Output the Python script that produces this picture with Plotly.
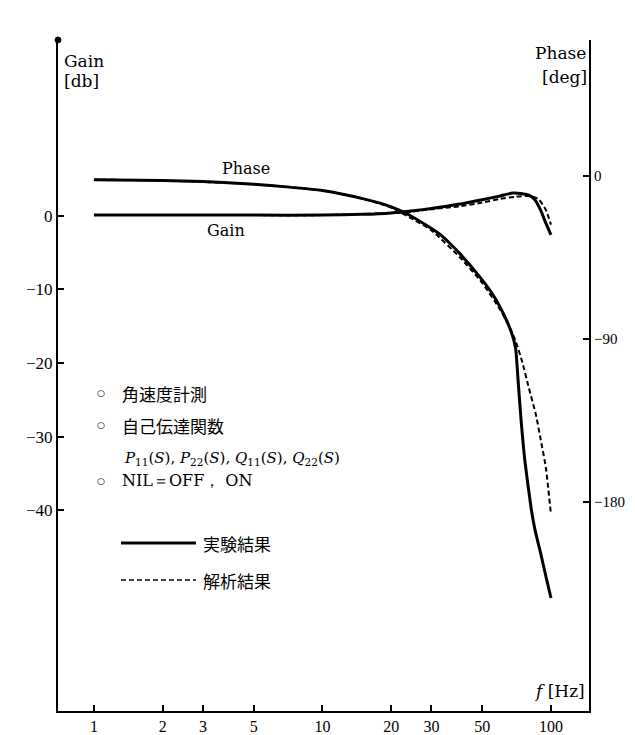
import plotly.graph_objects as go
import math

# ---------------- data ----------------
freq_gain_exp = [1, 2, 3, 5, 10, 15, 20, 25, 30, 40, 50, 60, 68, 75, 80, 85, 90, 95, 100]
gain_exp = [0.1, 0.1, 0.1, 0.1, 0.1, 0.2, 0.4, 0.7, 1.0, 1.6, 2.2, 2.7, 3.1, 3.0, 2.8, 2.2, 0.8, -1.0, -2.6]

freq_gain_ana = [1, 5, 10, 20, 25, 30, 40, 50, 60, 70, 80, 88, 95, 100]
gain_ana = [0.1, 0.1, 0.1, 0.4, 0.6, 0.9, 1.3, 1.8, 2.3, 2.6, 2.7, 2.3, 0.8, -1.2]

freq_phase_exp = [1, 2, 3, 5, 7, 10, 15, 20, 24, 33, 40, 49, 56, 63, 67, 70, 72, 74, 77, 82, 85,
                  90, 95, 100]
phase_exp = [-2, -2.5, -3, -4.5, -6, -8, -12.5, -17, -21.5, -32.6, -43, -56, -66, -78, -86, -95,
             -115, -135, -158, -184, -195, -208, -221, -233]

freq_phase_ana = [1, 2, 5, 10, 15, 20, 25, 30, 40, 50, 60, 65, 70, 75, 80, 86, 90, 95, 100]
phase_ana = [-2, -2.5, -4.5, -8, -12.5, -17.5, -24, -30, -45, -59, -74, -82, -91, -103, -117,
             -132, -145, -161, -187]

x_tickvals = [1, 2, 3, 5, 10, 20, 30, 50, 100]
x_ticktext = ["1", "2", "3", "5", "10", "20", "30", "50", "100"]
gain_tickvals = [0, -10, -20, -30, -40]
gain_ticktext = ["0", "\u221210", "\u221220", "\u221230", "\u221240"]
phase_tickvals = [0, -90, -180]
phase_ticktext = ["0", "\u221290", "\u2212180"]

notes = ["角速度計測", "自己伝達関数"]
formula = ("<i>P</i><sub>11</sub>(<i>S</i>), <i>P</i><sub>22</sub>(<i>S</i>), "
           "<i>Q</i><sub>11</sub>(<i>S</i>), <i>Q</i><sub>22</sub>(<i>S</i>)")
nil_note = "NIL\uff1dOFF\uff0c ON"
legend_labels = ["実験結果", "解析結果"]

# ---------------- layout geometry ----------------
W, H = 635, 735
L, R, T, B = 50, 54, 32, 32
PW, PH = W - L - R, H - T - B

def px(x):
    return (x - L) / PW

def py(y):
    return (H - B - y) / PH

SERIF = "DejaVu Serif"
TICKF = "Liberation Serif"
CJK = "Noto Sans CJK JP"

fig = go.Figure()

fig.add_trace(go.Scatter(x=freq_gain_exp, y=gain_exp, mode="lines",
                         line=dict(color="black", width=3, shape="spline", smoothing=0.5),
                         showlegend=False))
fig.add_trace(go.Scatter(x=freq_gain_ana, y=gain_ana, mode="lines",
                         line=dict(color="black", width=2, dash="5px,3px", shape="spline", smoothing=0.5),
                         showlegend=False))
fig.add_trace(go.Scatter(x=freq_phase_exp, y=phase_exp, mode="lines", yaxis="y2",
                         line=dict(color="black", width=3, shape="spline", smoothing=0.5),
                         showlegend=False))
fig.add_trace(go.Scatter(x=freq_phase_ana, y=phase_ana, mode="lines", yaxis="y2",
                         line=dict(color="black", width=2, dash="5px,3px", shape="spline", smoothing=0.5),
                         showlegend=False))

fig.update_layout(
    width=W, height=H,
    margin=dict(l=L, r=R, t=T, b=B, autoexpand=False),
    paper_bgcolor="white", plot_bgcolor="white",
    font=dict(family=SERIF, color="black", size=16),
    xaxis=dict(type="log", range=[math.log10(0.696), math.log10(146.7)],
               tickvals=x_tickvals, ticktext=x_ticktext, automargin=False,
               ticks="inside", ticklen=6, tickwidth=1.5, tickcolor="black",
               showline=True, linecolor="black", linewidth=2,
               showgrid=False, zeroline=False,
               tickfont=dict(family=TICKF, size=16)),
    yaxis=dict(range=[-67.3, 23.9], automargin=False,
               tickvals=gain_tickvals, ticktext=gain_ticktext,
               ticks="inside", ticklen=6, tickwidth=1.5, tickcolor="black",
               showline=True, linecolor="black", linewidth=2,
               showgrid=False, zeroline=False,
               tickfont=dict(family=TICKF, size=17)),
    yaxis2=dict(range=[-295.4, 75.1], overlaying="y", side="right", automargin=False,
                tickvals=phase_tickvals, ticktext=phase_ticktext,
                ticks="inside", ticklen=6, tickwidth=1.5, tickcolor="black",
                showline=True, linecolor="black", linewidth=2,
                showgrid=False, zeroline=False,
                tickfont=dict(family=TICKF, size=15)),
)

# dot at top of the gain axis
fig.add_shape(type="circle", xref="paper", yref="paper", xsizemode="pixel", ysizemode="pixel",
              xanchor=0, yanchor=1, x0=-3, x1=3, y0=-3, y1=3,
              fillcolor="black", line=dict(color="black", width=1))

ann = []
def text(x, y, s, size=16, family=SERIF, xanchor="left"):
    ann.append(dict(x=px(x), y=py(y), xref="paper", yref="paper", text=s, showarrow=False,
                    xanchor=xanchor, yanchor="middle", font=dict(family=family, size=size, color="black")))

text(54, 53, "Gain", 17)
text(54, 73, "[db]", 17)
text(580, 45, "Phase", 17, xanchor="right")
text(581, 69, "[deg]", 17, xanchor="right")
text(238, 160, "Phase", 16, xanchor="center")
text(218, 223, "Gain", 16, xanchor="center")

for yy in (385, 417, 473):
    text(93, yy, "\u25cb", 9, family="DejaVu Sans", xanchor="center")
text(112, 385, notes[0], 17, family=CJK)
text(112, 417, notes[1], 17, family=CJK)
text(114, 450, formula, 15)
text(112, 473, nil_note, 16)

text(193, 535, legend_labels[0], 17, family=CJK)
text(193, 572, legend_labels[1], 17, family=CJK)
text(579, 683, "<i>f</i> [Hz]", 17, xanchor="right")
fig.update_layout(annotations=ann)

fig.add_shape(type="line", xref="paper", yref="paper", x0=px(113), x1=px(188), y0=py(535), y1=py(535),
              line=dict(color="black", width=3))
fig.add_shape(type="line", xref="paper", yref="paper", x0=px(113), x1=px(188), y0=py(572), y1=py(572),
              line=dict(color="black", width=1.5, dash="5px,3px"))

fig.write_html("out.html")
